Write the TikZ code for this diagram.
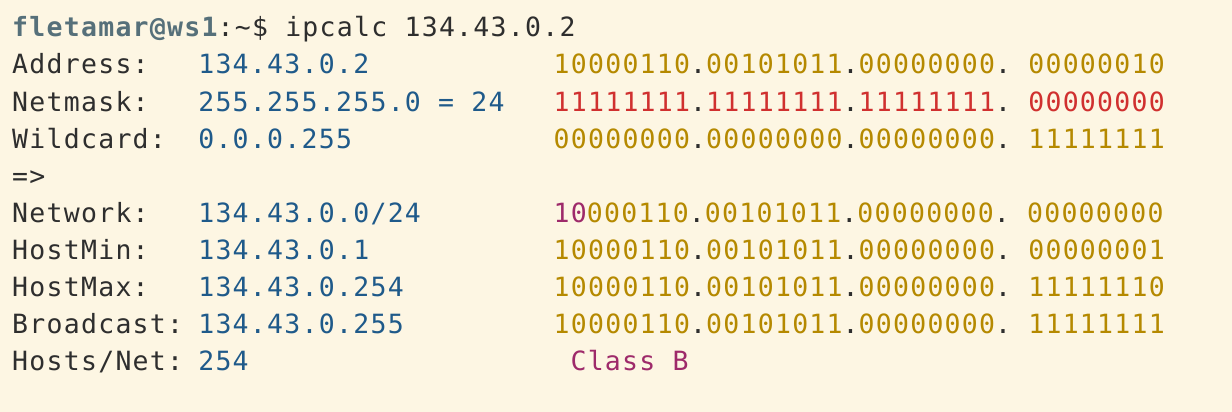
\documentclass[tikz,border=0pt]{standalone}
\usepackage{fontspec}
\setmonofont[LetterSpace=4.8]{DejaVu Sans Mono}
\definecolor{termbg}{HTML}{FDF6E3}
\definecolor{termfg}{HTML}{2E2E2E}
\definecolor{termblue}{HTML}{1F5A8A}
\definecolor{termyellow}{HTML}{B58900}
\definecolor{termred}{HTML}{D0302F}
\definecolor{termmagenta}{HTML}{9E2A6A}
\definecolor{termprompt}{HTML}{56707A}
% one line of terminal text
\tikzset{
  termline/.style={anchor=base west, inner sep=0pt, text=termfg,
    font=\ttfamily\fontsize{26.5}{30}\selectfont},
  termval/.style={termline, text=termblue}
}
% four octets in one colour, dots in the plain colour
\newcommand\binrow[5]{\textcolor{#1}{#2}.\textcolor{#1}{#3}.\textcolor{#1}{#4}. \textcolor{#1}{#5}}

\begin{document}
\begin{tikzpicture}[x=1pt,y=-1pt]
  \newcommand\cw{16.92}
  \newcommand\xo{12}
  \fill[termbg] (0,0) rectangle (1232,412);

  \node[termline] (prompt) at (\xo,37)
    {\textcolor{termprompt}{\bfseries fletamar@ws1}:\textasciitilde\$ ipcalc 134.43.0.2};

  \foreach \lbl [count=\i] in {Address:,Netmask:,Wildcard:,=>,Network:,HostMin:,HostMax:,Broadcast:,Hosts/Net:}{
    \node[termline] (lbl\i) at (\xo,37+37*\i) {\lbl};
  }

  \node[termval] (addr) at (\xo+11*\cw,74) {134.43.0.2};
  \node[termval] (mask) at (\xo+11*\cw,111) {255.255.255.0 = 24};
  \node[termval] (wild) at (\xo+11*\cw,148) {0.0.0.255};
  \node[termval] (net) at (\xo+11*\cw,222) {134.43.0.0/24};
  \node[termval] (hmin) at (\xo+11*\cw,259) {134.43.0.1};
  \node[termval] (hmax) at (\xo+11*\cw,296) {134.43.0.254};
  \node[termval] (bcast) at (\xo+11*\cw,333) {134.43.0.255};
  \node[termval] (hosts) at (\xo+11*\cw,370) {254};

  %%%%%%%%%%%%%%%%%%%%%%%%%%%%%%%%%%%%

  \node[termline] (addrbin) at (\xo+32*\cw,74)
    {\binrow{termyellow}{10000110}{00101011}{00000000}{00000010}};
  \node[termline] (maskbin) at (\xo+32*\cw,111)
    {\binrow{termred}{11111111}{11111111}{11111111}{00000000}};
  \node[termline] (wildbin) at (\xo+32*\cw,148)
    {\binrow{termyellow}{00000000}{00000000}{00000000}{11111111}};
  \node[termline] (netbin) at (\xo+32*\cw,222)
    {\textcolor{termmagenta}{10}\binrow{termyellow}{000110}{00101011}{00000000}{00000000}};
  \node[termline] (hminbin) at (\xo+32*\cw,259)
    {\binrow{termyellow}{10000110}{00101011}{00000000}{00000001}};
  \node[termline] (hmaxbin) at (\xo+32*\cw,296)
    {\binrow{termyellow}{10000110}{00101011}{00000000}{11111110}};
  \node[termline] (bcastbin) at (\xo+32*\cw,333)
    {\binrow{termyellow}{10000110}{00101011}{00000000}{11111111}};

  \node[termline, text=termmagenta] (class) at (\xo+33*\cw,370) {Class B};
\end{tikzpicture}
\end{document}
